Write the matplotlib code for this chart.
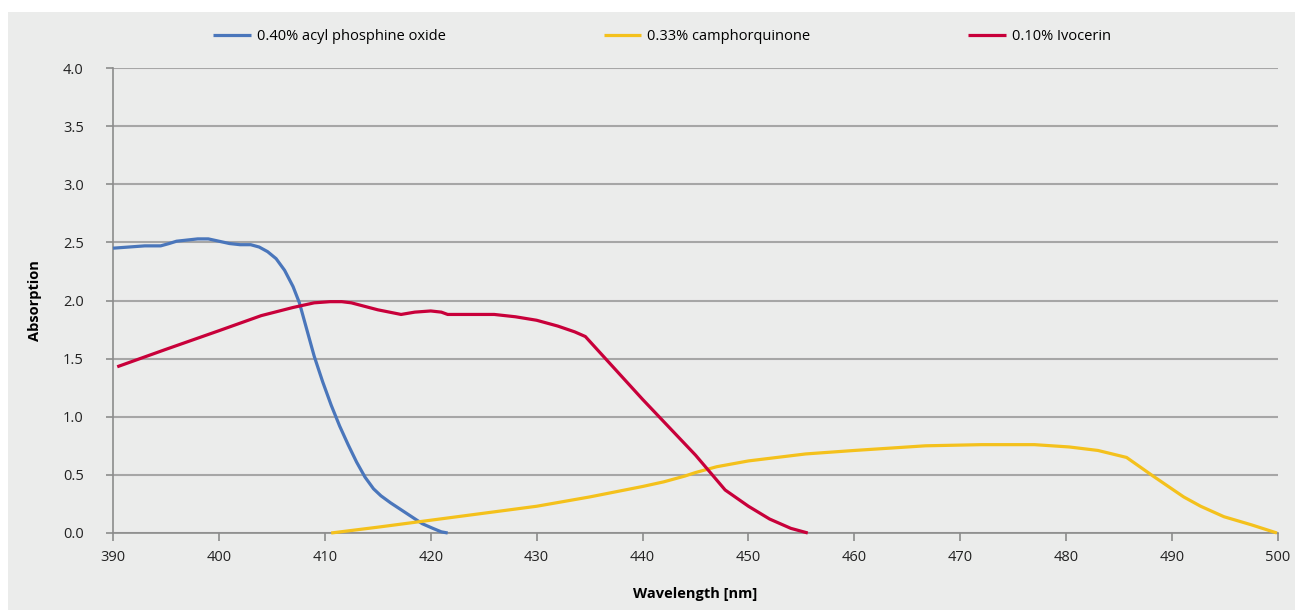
import numpy as np
import matplotlib.pyplot as plt
from matplotlib.patches import Rectangle

# 读取的数据 (wavelength nm, absorption)
apo_wl = [390, 391.5, 393, 394.5, 395.3, 396, 397, 398, 399, 400, 401, 402, 403, 403.8,
          404.6, 405.4, 406.2, 407, 407.6, 408.3, 409, 409.8, 410.6, 411.4, 412.2, 413,
          413.8, 414.6, 415.3, 416.2, 417.2, 418.2, 419.2, 420.2, 421, 421.6]
apo_abs = [2.45, 2.46, 2.47, 2.47, 2.49, 2.51, 2.52, 2.53, 2.53, 2.51, 2.49, 2.48, 2.48, 2.46,
           2.42, 2.36, 2.26, 2.12, 1.98, 1.75, 1.52, 1.30, 1.10, 0.92, 0.76, 0.61,
           0.48, 0.38, 0.32, 0.26, 0.20, 0.14, 0.08, 0.04, 0.01, 0.0]

cq_wl = [410.6, 415, 420, 425, 430, 435, 440, 442, 444, 445, 447, 450, 455.4, 460,
         466.7, 472, 477, 480.3, 483, 485.7, 488.2, 491.1, 492.7, 494.9, 497.5, 499.9]
cq_abs = [0.0, 0.05, 0.11, 0.17, 0.23, 0.31, 0.40, 0.44, 0.49, 0.52, 0.57, 0.62, 0.68, 0.71,
          0.75, 0.76, 0.76, 0.74, 0.71, 0.65, 0.49, 0.31, 0.23, 0.14, 0.07, 0.0]

ivo_wl = [390.4, 395, 400, 404, 407, 409, 410.5, 411.6, 412.5, 415, 417.2, 418.5, 420,
          421, 421.6, 424, 426, 428, 430, 432, 433.6, 434.6, 440, 445, 447.8, 450, 452,
          454, 455.6]
ivo_abs = [1.43, 1.58, 1.74, 1.87, 1.94, 1.98, 1.99, 1.99, 1.98, 1.92, 1.88, 1.90, 1.91,
           1.90, 1.88, 1.88, 1.88, 1.86, 1.83, 1.78, 1.73, 1.69, 1.15, 0.67, 0.37, 0.23, 0.12,
           0.04, 0.0]

series_labels = ['0.40% acyl phosphine oxide', '0.33% camphorquinone', '0.10% Ivocerin']
series_colors = ['#4a76bb', '#f4c11c', '#c8003a']

plt.rcParams['font.family'] = ['Open Sans', 'DejaVu Sans']

fig = plt.figure(figsize=(12.97, 6.10), dpi=100)
fig.patch.set_facecolor('white')
# 灰色背景面板
fig.patches.append(Rectangle((8 / 1297, 0), 1287 / 1297, 598 / 610,
                             transform=fig.transFigure, facecolor='#ebeceb',
                             edgecolor='none', zorder=-1))

ax = fig.add_axes([113 / 1297, 1 - 533 / 610, 1165 / 1297, 465 / 610])
ax.set_facecolor('none')

lines = []
for wl, ab, lab, col in zip([apo_wl, cq_wl, ivo_wl], [apo_abs, cq_abs, ivo_abs],
                            series_labels, series_colors):
    ln, = ax.plot(wl, ab, color=col, lw=2.3, label=lab, solid_capstyle='butt',
                  clip_on=False, zorder=3)
    lines.append(ln)

ax.set_xlim(390, 500)
ax.set_ylim(0, 4)
ax.set_xticks(np.arange(390, 501, 10))
ax.set_yticks(np.arange(0, 4.01, 0.5))
ax.set_yticklabels([f'{v:.1f}' for v in np.arange(0, 4.01, 0.5)])

ax.yaxis.grid(True, color='#a6a6a6', lw=1.5)
ax.set_axisbelow(True)
for s in ['top', 'right']:
    ax.spines[s].set_visible(False)
for s in ['left', 'bottom']:
    ax.spines[s].set_color('#8c8c8c')
    ax.spines[s].set_linewidth(1.2)
ax.tick_params(axis='both', colors='#8c8c8c', labelcolor='#222222', labelsize=10.5,
               width=1.2)
ax.tick_params(axis='x', length=6, pad=6)
ax.tick_params(axis='y', length=5, pad=16)

ax.set_xlabel('Wavelength [nm]', fontsize=10.5, fontweight='bold', labelpad=16)
ax.set_ylabel('Absorption', fontsize=10.5, fontweight='bold', labelpad=15)

fig.legend(handles=lines, loc='center', bbox_to_anchor=(662 / 1297, 1 - 37 / 610),
           ncol=3, frameon=False, fontsize=10.5, handlelength=2.6, handletextpad=0.4,
           columnspacing=10.8)

fig.savefig('out.png', dpi=100, facecolor=fig.get_facecolor())
